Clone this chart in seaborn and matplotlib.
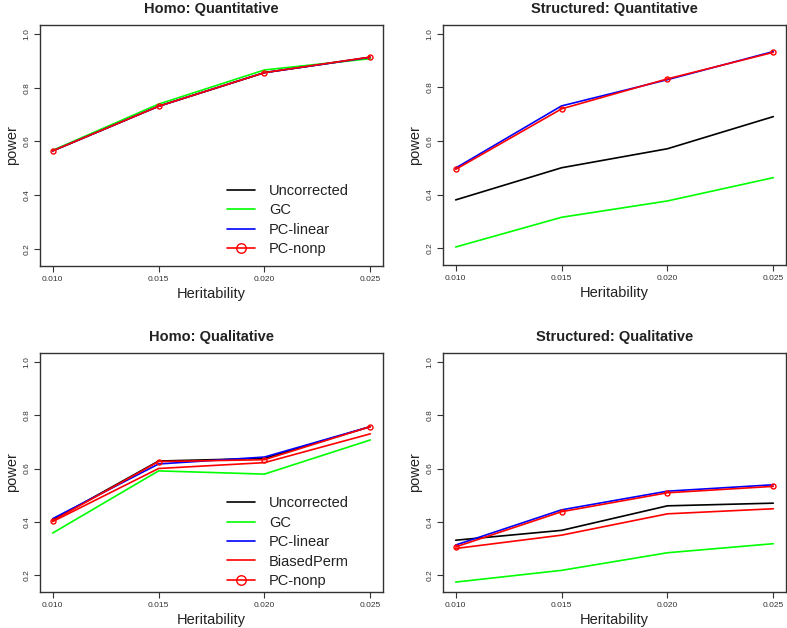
import matplotlib
matplotlib.use("Agg")
import matplotlib.pyplot as plt
import seaborn as sns
import pandas as pd

heritability = [0.010, 0.015, 0.020, 0.025]

# Homo: Quantitative
hq_uncorrected = [0.565, 0.731, 0.856, 0.913]
hq_gc = [0.567, 0.739, 0.866, 0.908]
hq_pclinear = [0.565, 0.731, 0.856, 0.913]
hq_pcnonp = [0.565, 0.731, 0.856, 0.914]

# Structured: Quantitative
sq_uncorrected = [0.380, 0.500, 0.571, 0.691]
sq_gc = [0.204, 0.315, 0.376, 0.463]
sq_pclinear = [0.499, 0.731, 0.829, 0.934]
sq_pcnonp = [0.494, 0.720, 0.832, 0.931]

# Homo: Qualitative
hl_uncorrected = [0.407, 0.628, 0.638, 0.757]
hl_gc = [0.358, 0.591, 0.579, 0.707]
hl_pclinear = [0.412, 0.617, 0.643, 0.757]
hl_biasedperm = [0.401, 0.600, 0.622, 0.730]
hl_pcnonp = [0.404, 0.626, 0.633, 0.757]

# Structured: Qualitative
sl_uncorrected = [0.331, 0.368, 0.460, 0.470]
sl_gc = [0.174, 0.218, 0.284, 0.318]
sl_pclinear = [0.313, 0.445, 0.515, 0.539]
sl_biasedperm = [0.300, 0.350, 0.430, 0.449]
sl_pcnonp = [0.306, 0.438, 0.509, 0.533]

colors = {"Uncorrected": "black", "GC": "#00FF00", "PC-linear": "#0000FF",
          "BiasedPerm": "#FF0000", "PC-nonp": "#FF0000"}

panels = [
    ("Homo: Quantitative", {"Uncorrected": hq_uncorrected, "GC": hq_gc,
                            "PC-linear": hq_pclinear, "PC-nonp": hq_pcnonp}, True),
    ("Structured: Quantitative", {"Uncorrected": sq_uncorrected, "GC": sq_gc,
                                  "PC-linear": sq_pclinear, "PC-nonp": sq_pcnonp}, False),
    ("Homo: Qualitative", {"Uncorrected": hl_uncorrected, "GC": hl_gc,
                           "PC-linear": hl_pclinear, "BiasedPerm": hl_biasedperm,
                           "PC-nonp": hl_pcnonp}, True),
    ("Structured: Qualitative", {"Uncorrected": sl_uncorrected, "GC": sl_gc,
                                 "PC-linear": sl_pclinear, "BiasedPerm": sl_biasedperm,
                                 "PC-nonp": sl_pcnonp}, False),
]

sns.set_style("white")
plt.rcParams["font.family"] = ["Liberation Sans", "DejaVu Sans"]

fig = plt.figure(figsize=(7.87, 6.28), dpi=100)
W, H = 787.0, 628.0
boxes = [(40, 25, 383, 266), (443, 25, 786, 265),
         (40, 353, 383, 592), (443, 353, 786, 592)]

for (title, series, show_legend), (x0, y0, x1, y1) in zip(panels, boxes):
    ax = fig.add_axes([x0 / W, 1 - y1 / H, (x1 - x0) / W, (y1 - y0) / H])
    for name, vals in series.items():
        df = pd.DataFrame({"Heritability": heritability, "power": vals})
        if name == "PC-nonp":
            sns.lineplot(data=df, x="Heritability", y="power", ax=ax, color=colors[name],
                         lw=1.2, marker="o", markersize=3.6, markerfacecolor="none",
                         markeredgecolor=colors[name], markeredgewidth=1.0, label=name)
        else:
            sns.lineplot(data=df, x="Heritability", y="power", ax=ax, color=colors[name],
                         lw=1.2, label=name)
    ax.set_xlim(0.0094, 0.0256)
    ax.set_ylim(0.1368, 1.0332)
    ax.set_xticks(heritability)
    ax.set_xticklabels(["0.010", "0.015", "0.020", "0.025"])
    ax.set_yticks([0.2, 0.4, 0.6, 0.8, 1.0])
    ax.set_yticklabels(["0.2", "0.4", "0.6", "0.8", "1.0"], rotation=90, va="center")
    ax.tick_params(axis="both", direction="out", length=4, width=0.8, labelsize=6,
                   colors="#333333", bottom=True, left=True, pad=3)
    for s in ax.spines.values():
        s.set_color("#333333")
        s.set_linewidth(1.0)
    ax.set_title(title, fontsize=10.5, fontweight="bold", pad=9, color="#222222")
    ax.set_xlabel("Heritability", fontsize=10.5, labelpad=3, color="#222222")
    ax.set_ylabel("power", fontsize=10.5, labelpad=3, color="#222222")
    if show_legend:
        anchor_y = 0.34 if len(series) == 4 else 0.40
        leg = ax.legend(loc="upper left", bbox_to_anchor=(0.545, anchor_y), frameon=False,
                        fontsize=10.5, borderpad=0, borderaxespad=0, handlelength=1.9,
                        handletextpad=1.0, labelspacing=0.37, markerscale=1.9)
        for t in leg.get_texts():
            t.set_color("#222222")
    else:
        ax.get_legend().remove()

fig.savefig("out.png", dpi=100)
